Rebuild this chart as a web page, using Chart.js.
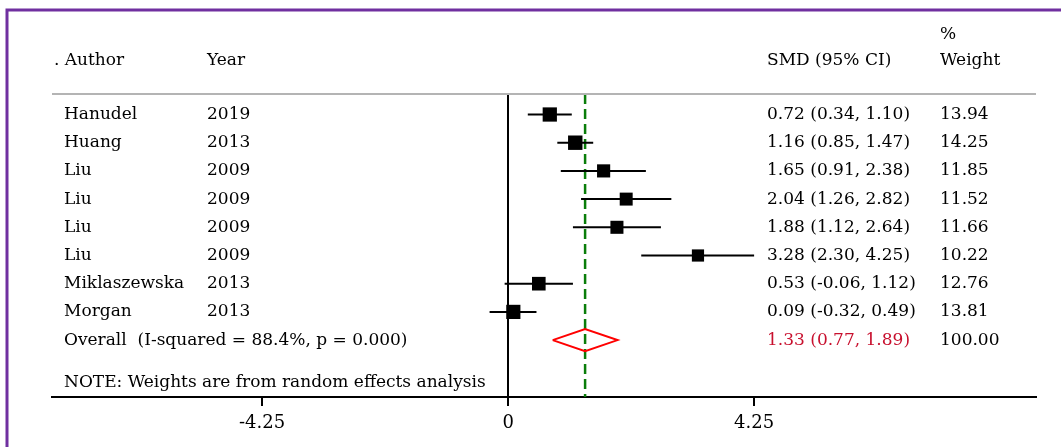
<!DOCTYPE html>
<html>
<head>
<meta charset="utf-8">
<script src="https://cdn.jsdelivr.net/npm/chart.js@4"></script>
<style>
  html, body { margin: 0; padding: 0; background: #fff; }
  #wrap { width: 1061px; height: 447px; }
</style>
</head>
<body>
<div id="wrap"><canvas id="forest" width="1061" height="447"></canvas></div>
<script>
// study data
const authors = ['Hanudel', 'Huang', 'Liu', 'Liu', 'Liu', 'Liu', 'Miklaszewska', 'Morgan'];
const years = ['2019', '2013', '2009', '2009', '2009', '2009', '2013', '2013'];
const smd = [0.72, 1.16, 1.65, 2.04, 1.88, 3.28, 0.53, 0.09];
const lower = [0.34, 0.85, 0.91, 1.26, 1.12, 2.30, -0.06, -0.32];
const upper = [1.10, 1.47, 2.38, 2.82, 2.64, 4.25, 1.12, 0.49];
const weights = [13.94, 14.25, 11.85, 11.52, 11.66, 10.22, 12.76, 13.81];
// pooled estimate
const overall = { est: 1.33, lo: 0.77, hi: 1.89, weight: 100 };
const overallLabel = 'Overall  (I-squared = 88.4%, p = 0.000)';
const noteText = 'NOTE: Weights are from random effects analysis';
const xTicks = [-4.25, 0, 4.25];

const FONT = '17px "DejaVu Serif", serif';
const overallRow = authors.length;

const ctx = document.getElementById('forest').getContext('2d');

// squares, sized by weight
const squares = {
  type: 'scatter',
  data: smd.map((v, i) => ({ x: v, y: i })),
  pointStyle: 'rect',
  pointRadius: weights.map(w => 2.7 * Math.sqrt(w)),
  pointHoverRadius: weights.map(w => 2.7 * Math.sqrt(w)),
  backgroundColor: '#000',
  borderWidth: 0,
  order: 0
};

// confidence interval lines
const ciLines = smd.map((v, i) => ({
  type: 'line',
  data: [{ x: lower[i], y: i }, { x: upper[i], y: i }],
  borderColor: '#000',
  borderWidth: 2,
  pointRadius: 0,
  order: 1
}));

// pooled diamond
const h = 0.39;
const diamond = {
  type: 'line',
  data: [
    { x: overall.lo, y: overallRow },
    { x: overall.est, y: overallRow - h },
    { x: overall.hi, y: overallRow },
    { x: overall.est, y: overallRow + h },
    { x: overall.lo, y: overallRow }
  ],
  borderColor: '#ff0000',
  borderWidth: 2,
  pointRadius: 0,
  tension: 0,
  order: 0
};

const forestText = {
  id: 'forestText',
  beforeDatasetsDraw(chart) {
    const c = chart.ctx;
    const xs = chart.scales.x;
    const top = chart.chartArea.top, bottom = chart.chartArea.bottom;
    c.save();
    // null line
    c.strokeStyle = '#000';
    c.lineWidth = 2;
    c.beginPath();
    c.moveTo(Math.round(xs.getPixelForValue(0)), top);
    c.lineTo(Math.round(xs.getPixelForValue(0)), bottom);
    c.stroke();
    // overall estimate line
    c.strokeStyle = '#0a7d0a';
    c.lineWidth = 2.5;
    c.setLineDash([10, 5]);
    c.beginPath();
    c.moveTo(xs.getPixelForValue(overall.est), top);
    c.lineTo(xs.getPixelForValue(overall.est), bottom);
    c.stroke();
    c.restore();
  },
  afterDraw(chart) {
    const c = chart.ctx;
    const xs = chart.scales.x;
    const ys = chart.scales.y;
    const area = chart.chartArea;
    c.save();
    // frame
    c.strokeStyle = '#7030a0';
    c.lineWidth = 3;
    c.beginPath();
    c.moveTo(1061, 10);
    c.lineTo(7, 10);
    c.lineTo(7, 447);
    c.stroke();
    // header rule
    c.strokeStyle = '#b4b4b4';
    c.lineWidth = 2;
    c.beginPath();
    c.moveTo(area.left, area.top);
    c.lineTo(area.right, area.top);
    c.stroke();
    // tick marks under the axis
    c.strokeStyle = '#000';
    c.lineWidth = 2;
    xs.ticks.forEach(t => {
      const px = Math.round(xs.getPixelForValue(t.value));
      c.beginPath();
      c.moveTo(px, area.bottom);
      c.lineTo(px, area.bottom + 9);
      c.stroke();
    });

    c.font = FONT;
    c.fillStyle = '#000';
    c.textBaseline = 'middle';
    c.textAlign = 'left';
    c.fillText('. Author', 54, 61);
    c.fillText('Year', 207, 61);
    c.fillText('SMD (95% CI)', 767, 61);
    c.fillText('%', 940, 35);
    c.fillText('Weight', 940, 61);

    authors.forEach((a, i) => {
      const y = ys.getPixelForValue(i);
      c.fillStyle = '#000';
      c.fillText(a, 64, y);
      c.fillText(years[i], 207, y);
      c.fillText(smd[i].toFixed(2) + ' (' + lower[i].toFixed(2) + ', ' + upper[i].toFixed(2) + ')', 767, y);
      c.fillText(weights[i].toFixed(2), 940, y);
    });
    const yo = ys.getPixelForValue(overallRow);
    c.fillText(overallLabel, 64, yo);
    c.fillText(overall.weight.toFixed(2), 940, yo);
    c.fillStyle = '#c8102e';
    c.fillText(overall.est.toFixed(2) + ' (' + overall.lo.toFixed(2) + ', ' + overall.hi.toFixed(2) + ')', 767, yo);
    c.fillStyle = '#000';
    c.fillText(noteText, 64, ys.getPixelForValue(overallRow + 1.5));
    c.restore();
  }
};

new Chart(ctx, {
  data: { datasets: [squares, diamond, ...ciLines] },
  options: {
    responsive: false,
    animation: false,
    layout: { padding: { left: 52, right: 25, top: 94, bottom: 0 } },
    plugins: { legend: { display: false }, tooltip: { enabled: false } },
    scales: {
      x: {
        type: 'linear',
        min: -7.88,
        max: 9.12,
        afterBuildTicks(scale) { scale.ticks = xTicks.map(v => ({ value: v })); },
        afterFit(scale) { scale.height = 50; },
        ticks: {
          font: { family: '"DejaVu Serif", serif', size: 18 },
          color: '#000',
          padding: 7,
          callback: v => (v === 0 ? '0' : v.toFixed(2))
        },
        grid: {
          display: true,
          drawOnChartArea: false,
          drawTicks: true,
          tickLength: 9,
          color: '#000',
          lineWidth: 2,
          tickColor: '#000',
          tickWidth: 2
        },
        border: { display: true, color: '#000', width: 2 }
      },
      y: {
        type: 'linear',
        display: false,
        reverse: true,
        min: -0.727,
        max: 10.018
      }
    }
  },
  plugins: [forestText]
});
</script>
</body>
</html>
